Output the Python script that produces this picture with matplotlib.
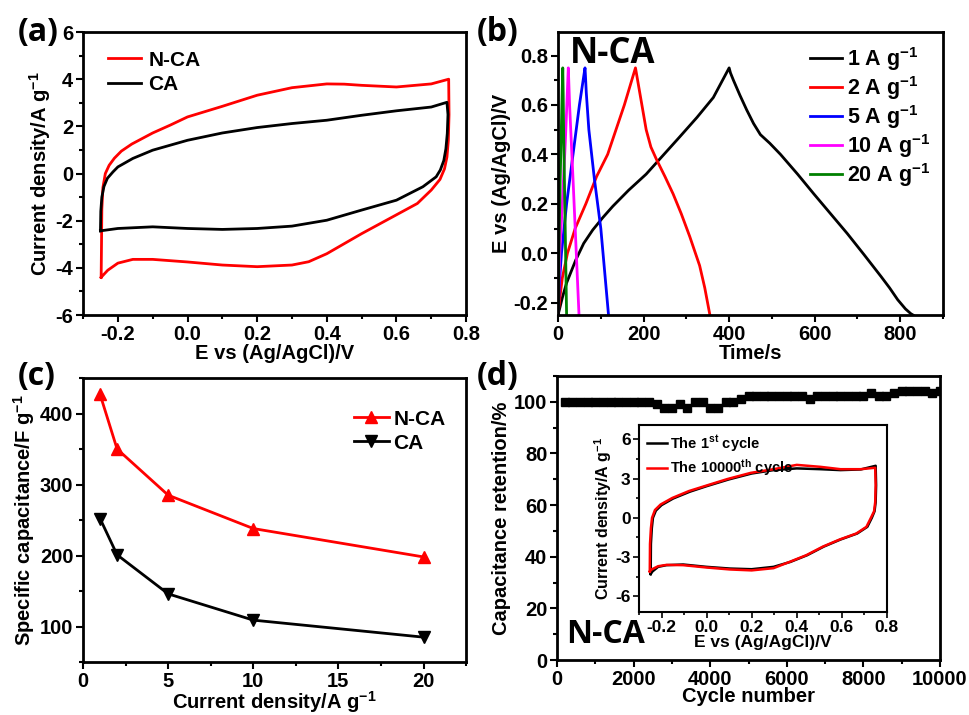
import matplotlib
matplotlib.use("Agg")
from matplotlib import pyplot as plt
from matplotlib.ticker import MultipleLocator

plt.rcParams['font.family'] = ['Liberation Sans', 'DejaVu Sans']
plt.rcParams['font.weight'] = 'bold'
plt.rcParams['axes.labelweight'] = 'bold'
plt.rcParams['axes.linewidth'] = 2
plt.rcParams['mathtext.fontset'] = 'custom'
plt.rcParams['mathtext.rm'] = 'Liberation Sans:bold'
plt.rcParams['mathtext.it'] = 'Liberation Sans:bold'
plt.rcParams['mathtext.bf'] = 'Liberation Sans:bold'

# (a) CV curves
nca_cv_x = [-0.248, -0.247, -0.246, -0.243, -0.236, -0.225, -0.21, -0.19, -0.16, -0.1, -0.05, 0.0, 0.1, 0.2,
            0.3, 0.4, 0.45, 0.5, 0.6, 0.7, 0.75, 0.751, 0.749, 0.745, 0.738, 0.725, 0.7, 0.66, 0.6, 0.5, 0.4,
            0.348, 0.3, 0.2, 0.1, 0.0, -0.1, -0.157, -0.2, -0.229, -0.248]
nca_cv_y = [-4.4, -3.0, -1.5, -0.6, 0.0, 0.35, 0.65, 0.95, 1.25, 1.72, 2.05, 2.4, 2.85, 3.32,
            3.64, 3.8, 3.79, 3.74, 3.67, 3.8, 4.0, 2.5, 1.4, 0.7, 0.2, -0.25, -0.7, -1.27, -1.75, -2.55, -3.4,
            -3.74, -3.88, -3.95, -3.88, -3.75, -3.64, -3.64, -3.8, -4.1, -4.4]
ca_cv_x = [-0.25, -0.249, -0.246, -0.24, -0.23, -0.214, -0.2, -0.157, -0.1, 0.0, 0.1, 0.2, 0.3, 0.4,
           0.5, 0.6, 0.7, 0.745, 0.748, 0.746, 0.742, 0.736, 0.726, 0.714, 0.676, 0.6, 0.5, 0.4, 0.3,
           0.2, 0.1, 0.0, -0.1, -0.2, -0.25]
ca_cv_y = [-2.43, -1.6, -1.0, -0.55, -0.2, 0.07, 0.28, 0.64, 0.99, 1.41, 1.72, 1.95, 2.12, 2.26,
           2.47, 2.66, 2.82, 3.02, 2.5, 1.7, 1.05, 0.55, 0.15, -0.14, -0.56, -1.13, -1.55, -1.98, -2.23,
           -2.33, -2.37, -2.33, -2.26, -2.33, -2.43]

# (b) galvanostatic charge/discharge of N-CA
gcd_labels = ['1 A g$^{-1}$', '2 A g$^{-1}$', '5 A g$^{-1}$', '10 A g$^{-1}$', '20 A g$^{-1}$']
gcd_colors = ['black', 'red', 'blue', 'magenta', 'green']
gcd_t = [
    [0, 10, 20, 41.5, 60, 81, 105, 128, 165, 206, 245, 284, 325, 363, 400, 403, 410, 425, 441, 457,
     473, 495, 520, 560, 598, 637, 676, 715, 755, 775, 794, 812, 825, 830],
    [0, 5, 10, 22, 40, 65, 90, 116, 155, 181, 184, 190, 198, 206, 217, 230, 250, 269, 288, 308,
     331, 343, 355],
    [0, 4, 8, 20, 35, 50, 63, 64, 66, 72, 85, 100, 118],
    [0, 4, 10, 17, 24, 25, 27, 35, 49],
    [0, 2, 5, 11, 12, 13, 20],
]
gcd_v = [
    [-0.25, -0.18, -0.12, -0.027, 0.04, 0.094, 0.145, 0.19, 0.255, 0.32, 0.395, 0.47, 0.55, 0.63,
     0.75, 0.73, 0.70, 0.64, 0.58, 0.525, 0.48, 0.445, 0.40, 0.32, 0.24, 0.16, 0.08, -0.005, -0.094,
     -0.14, -0.188, -0.225, -0.245, -0.25],
    [-0.25, -0.17, -0.1, 0.0, 0.1, 0.2, 0.31, 0.4, 0.6, 0.75, 0.72, 0.66, 0.58, 0.5, 0.43, 0.38,
     0.31, 0.24, 0.16, 0.067, -0.05, -0.14, -0.25],
    [-0.25, -0.1, 0.0, 0.2, 0.4, 0.6, 0.75, 0.72, 0.65, 0.5, 0.3, 0.1, -0.25],
    [-0.25, 0.0, 0.2, 0.45, 0.75, 0.7, 0.6, 0.3, -0.25],
    [-0.25, 0.0, 0.3, 0.75, 0.65, 0.5, -0.25],
]

# (c) rate capability
current = [1, 2, 5, 10, 20]
cap_nca = [427, 350, 285, 238, 198]
cap_ca = [252, 201, 146, 109, 85]

# (d) cycling stability
cycles = list(range(200, 10001, 200))
retention = ([100] * 12 +
             [99.3, 97.8, 97.8, 99.0, 97.8, 100, 100, 97.8, 97.8, 100, 100, 101.2, 102.2] +
             [102.2] * 7 + [101.2] + [102.2] * 7 +
             [103.5, 102.2, 102.2, 103.5, 104.3, 104.3, 104.3, 104.3, 103.5, 104.3])

# (d) inset CVs
first_x = [-0.248, -0.247, -0.243, -0.238, -0.225, -0.2, -0.148, -0.074, 0.0, 0.097, 0.2, 0.297,
           0.4, 0.505, 0.594, 0.684, 0.75, 0.752, 0.75, 0.745, 0.733, 0.713, 0.668, 0.594, 0.52,
           0.446, 0.372, 0.297, 0.2, 0.104, 0.0, -0.104, -0.178, -0.215, -0.24, -0.248]
first_y = [-4.3, -2.0, -0.8, 0.0, 0.55, 0.97, 1.48, 2.0, 2.42, 2.93, 3.39, 3.65,
           3.78, 3.72, 3.65, 3.7, 3.98, 2.5, 1.2, 0.5, 0.0, -0.69, -1.2, -1.66, -2.2,
           -2.86, -3.37, -3.75, -3.93, -3.88, -3.75, -3.57, -3.62, -3.75, -4.1, -4.3]
last_x = [-0.252, -0.251, -0.247, -0.242, -0.229, -0.204, -0.152, -0.078, -0.004, 0.093, 0.196, 0.297,
          0.4, 0.505, 0.594, 0.684, 0.748, 0.75, 0.748, 0.743, 0.729, 0.709, 0.664, 0.59, 0.516,
          0.442, 0.368, 0.297, 0.2, 0.104, 0.0, -0.104, -0.178, -0.215, -0.244, -0.252]
last_y = [-4.1, -2.0, -0.8, 0.0, 0.6, 1.02, 1.52, 2.05, 2.45, 2.97, 3.44, 3.72,
          4.05, 3.9, 3.72, 3.72, 3.83, 2.5, 1.2, 0.5, 0.0, -0.69, -1.2, -1.66, -2.2,
          -2.86, -3.37, -3.85, -4.02, -3.95, -3.8, -3.62, -3.6, -3.7, -3.95, -4.1]

fig = plt.figure(figsize=(9.69, 7.15), dpi=100)
LAB = 14.5
TICK = 14.5


def style(ax):
    ax.tick_params(which='major', length=5, direction='out', width=1.5, labelsize=TICK, pad=2)
    ax.tick_params(which='minor', length=3, direction='out', width=1.5)


# ---- (a)
ax1 = fig.add_axes([0.0857, 0.5594, 0.3953, 0.3958])
ax1.plot(nca_cv_x, nca_cv_y, color='red', lw=2, label='N-CA')
ax1.plot(ca_cv_x, ca_cv_y, color='black', lw=2, label='CA')
ax1.set_xlim(-0.3, 0.8)
ax1.set_ylim(-6, 6)
ax1.set_xticks([-0.2, 0.0, 0.2, 0.4, 0.6, 0.8])
ax1.set_xticklabels(['-0.2', '0.0', '0.2', '0.4', '0.6', '0.8'])
ax1.xaxis.set_minor_locator(MultipleLocator(0.1))
ax1.set_yticks([-6, -4, -2, 0, 2, 4, 6])
ax1.set_yticklabels(['-6', '-4', '-2', '0', '2', '4', '6'])
ax1.yaxis.set_minor_locator(MultipleLocator(1))
style(ax1)
ax1.set_xlabel('E vs (Ag/AgCl)/V', fontsize=LAB, labelpad=0)
ax1.set_ylabel('Current density/A g$^{-1}$', fontsize=LAB, labelpad=2)
ax1.legend(loc='upper left', frameon=False, fontsize=15, handlelength=1.6,
           handletextpad=0.35, labelspacing=0.25, borderaxespad=0.5,
           bbox_to_anchor=(0.015, 1.0))

# ---- (b)
ax2 = fig.add_axes([0.5759, 0.5594, 0.3973, 0.3958])
for t, v, lab, col in zip(gcd_t, gcd_v, gcd_labels, gcd_colors):
    ax2.plot(t, v, color=col, lw=2, label=lab)
ax2.set_xlim(0, 900)
ax2.set_ylim(-0.25, 0.895)
ax2.set_xticks([0, 200, 400, 600, 800])
ax2.xaxis.set_minor_locator(MultipleLocator(100))
ax2.set_yticks([-0.2, 0.0, 0.2, 0.4, 0.6, 0.8])
ax2.set_yticklabels(['-0.2', '0.0', '0.2', '0.4', '0.6', '0.8'])
ax2.yaxis.set_minor_locator(MultipleLocator(0.1))
style(ax2)
ax2.set_xlabel('Time/s', fontsize=LAB, labelpad=0)
ax2.set_ylabel('E vs (Ag/AgCl)/V', fontsize=LAB, labelpad=2)
ax2.legend(loc='upper right', frameon=False, fontsize=15.5, handlelength=1.5,
           handletextpad=0.2, labelspacing=0.05, borderaxespad=0.2)
ax2.text(0.03, 0.985, 'N-CA', transform=ax2.transAxes, ha='left', va='top',
         fontsize=25, fontweight='bold', family=['Open Sans', 'DejaVu Sans'])

# ---- (c)
ax3 = fig.add_axes([0.0857, 0.0741, 0.3953, 0.3972])
ax3.plot(current, cap_nca, color='red', lw=2, marker='^', ms=8, label='N-CA')
ax3.plot(current, cap_ca, color='black', lw=2, marker='v', ms=8, label='CA')
ax3.set_xlim(0, 22.5)
ax3.set_ylim(50, 450)
ax3.set_xticks([0, 5, 10, 15, 20])
ax3.xaxis.set_minor_locator(MultipleLocator(2.5))
ax3.set_yticks([100, 200, 300, 400])
ax3.yaxis.set_minor_locator(MultipleLocator(50))
style(ax3)
ax3.set_xlabel('Current density/A g$^{-1}$', fontsize=LAB, labelpad=-1)
ax3.set_ylabel('Specific capacitance/F g$^{-1}$', fontsize=LAB, labelpad=2)
ax3.legend(loc='upper right', bbox_to_anchor=(0.995, 0.955), frameon=False, fontsize=15,
           handlelength=1.7, handletextpad=0.2, labelspacing=0.25)

# ---- (d)
ax4 = fig.add_axes([0.5748, 0.0769, 0.3953, 0.3972])
ax4.plot(cycles, retention, 's', color='black', ms=5.3)
ax4.set_xlim(0, 10000)
ax4.set_ylim(0, 110)
ax4.set_xticks([0, 2000, 4000, 6000, 8000, 10000])
ax4.xaxis.set_minor_locator(MultipleLocator(1000))
ax4.set_yticks([0, 20, 40, 60, 80, 100])
ax4.yaxis.set_minor_locator(MultipleLocator(10))
style(ax4)
ax4.set_xlabel('Cycle number', fontsize=LAB, labelpad=-1)
ax4.set_ylabel('Capacitance retention/%', fontsize=LAB, labelpad=2)
ax4.text(0.025, 0.03, 'N-CA', transform=ax4.transAxes, ha='left', va='bottom',
         fontsize=23, fontweight='bold', family=['Open Sans', 'DejaVu Sans'])

# inset
ax5 = fig.add_axes([0.6594, 0.1441, 0.2559, 0.2615])
ax5.plot(first_x, first_y, color='black', lw=1.8, label='The 1$^{st}$ cycle')
ax5.plot(last_x, last_y, color='red', lw=1.8, label='The 10000$^{th}$ cycle')
ax5.set_xlim(-0.3, 0.8)
ax5.set_ylim(-7.2, 7.1)
ax5.set_xticks([-0.2, 0.0, 0.2, 0.4, 0.6, 0.8])
ax5.set_xticklabels(['-0.2', '0.0', '0.2', '0.4', '0.6', '0.8'])
ax5.xaxis.set_minor_locator(MultipleLocator(0.1))
ax5.set_yticks([-6, -3, 0, 3, 6])
ax5.set_yticklabels(['-6', '-3', '0', '3', '6'])
ax5.yaxis.set_minor_locator(MultipleLocator(1.5))
for sp in ax5.spines.values():
    sp.set_linewidth(1.5)
ax5.tick_params(which='major', length=4, direction='out', width=1.2, labelsize=12.5, pad=2)
ax5.tick_params(which='minor', length=2.5, direction='out', width=1.2)
ax5.set_xlabel('E vs (Ag/AgCl)/V', fontsize=12.5, labelpad=0)
ax5.set_ylabel('Current density/A g$^{-1}$', fontsize=11.5, labelpad=1)
ax5.legend(loc='upper left', frameon=False, fontsize=10.5, handlelength=1.4,
           handletextpad=0.15, labelspacing=0.25, borderaxespad=0.15,
           bbox_to_anchor=(0.0, 1.0))

# panel labels
for x, y, s in [(0.018, 0.978, '(a)'), (0.492, 0.978, '(b)'),
                (0.018, 0.497, '(c)'), (0.492, 0.497, '(d)')]:
    fig.text(x, y, s, ha='left', va='top', fontsize=23, fontweight='bold',
             family=['Open Sans', 'DejaVu Sans'])

fig.savefig('out.png', dpi=100)
